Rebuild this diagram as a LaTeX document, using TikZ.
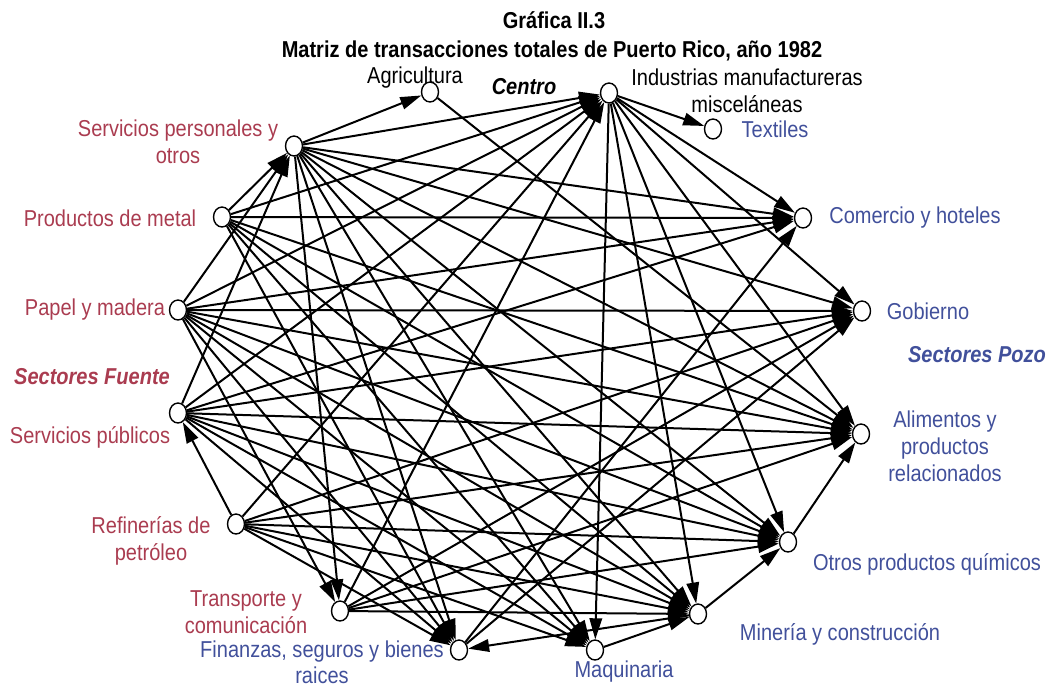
\documentclass[tikz,border=0pt]{standalone}
\usepackage{fontspec}
\setmainfont{Liberation Sans}[FakeStretch=0.87]
\usetikzlibrary{arrows.meta,shapes.geometric}
\definecolor{srcred}{RGB}{170,60,80}
\definecolor{sinkblue}{RGB}{65,80,155}
\pgfdeclarelayer{edges}
\pgfsetlayers{edges,main}

\begin{document}
\begin{tikzpicture}[x=1pt,y=-1pt,
  sector/.style={draw=black, line width=1.4pt, fill=white, ellipse,
    minimum width=17pt, minimum height=20pt, inner sep=0pt},
  flow/.style={line width=2pt, -{Triangle[length=21pt,width=12.5pt]}},
  lbl/.style={inner sep=0pt, align=center, font=\fontsize{23}{27}\selectfont},
  srclbl/.style={lbl, text=srcred},
  sinklbl/.style={lbl, text=sinkblue},
  grouplbl/.style={inner sep=0pt, font=\fontsize{23}{27}\selectfont\bfseries\itshape},
  titlelbl/.style={inner sep=0pt, font=\fontsize{23}{27}\selectfont\bfseries},
]
\useasboundingbox (0,0) rectangle (1056,689);

% title
\node[titlelbl] (t1) at (554,20) {Gráfica II.3};
\node[titlelbl] (t2) at (552,51) {Matriz de transacciones totales de Puerto Rico, año 1982};

% sectors
\node[sector] (agr) at (430,92) {};
\node[sector] (im)  at (609,93) {};
\node[sector] (tex) at (713,129) {};
\node[sector] (sp)  at (294,146) {};
\node[sector] (ch)  at (803,218) {};
\node[sector] (pm)  at (222,217) {};
\node[sector] (pa)  at (178,310) {};
\node[sector] (go)  at (862,311) {};
\node[sector] (spu) at (178,413) {};
\node[sector] (al)  at (861,434) {};
\node[sector] (rp)  at (236,524) {};
\node[sector] (oq)  at (788,542) {};
\node[sector] (tc)  at (340,611) {};
\node[sector] (mc)  at (698,614) {};
\node[sector] (fi)  at (459,650) {};
\node[sector] (ma)  at (595,650) {};

% labels
\node[lbl] (lagr) at (415,78) {Agricultura};
\node[grouplbl] (lcen) at (524,87) {Centro};
\node[lbl] (lim) at (747,91) {Industrias manufactureras\\misceláneas};
\node[sinklbl] (ltex) at (775,129) {Textiles};
\node[srclbl] (lsp) at (178,142) {Servicios personales y\\otros};
\node[srclbl] (lpm) at (110,218) {Productos de metal};
\node[srclbl] (lpa) at (95,310) {Papel y madera};
\node[grouplbl, text=srcred] (lfue) at (92,377) {Sectores Fuente};
\node[srclbl] (lspu) at (90,437) {Servicios públicos};
\node[srclbl] (lrp) at (151,541) {Refinerías de\\petróleo};
\node[srclbl] (ltc) at (246,612) {Transporte y\\comunicación};
\node[sinklbl, font=\fontsize{23}{26}\selectfont] (lfi) at (322,662) {Finanzas, seguros y bienes\\raices};
\node[sinklbl] (lma) at (624,672) {Maquinaria};
\node[sinklbl] (lmc) at (840,634) {Minería y construcción};
\node[sinklbl] (loq) at (927,564) {Otros productos químicos};
\node[sinklbl] (lal) at (945,446) {Alimentos y\\productos\\relacionados};
\node[grouplbl, text=sinkblue] (lpoz) at (977,355) {Sectores Pozo};
\node[sinklbl] (lgo) at (928,311) {Gobierno};
\node[sinklbl] (lch) at (915,218) {Comercio y hoteles};

% flows between sectors
\begin{pgfonlayer}{edges}
\foreach \a/\b in {
  sp/agr, sp/im, sp/ch, sp/go, sp/al, sp/oq, sp/mc, sp/ma, sp/fi, sp/tc,
  pm/sp, pm/im, pm/ch, pm/al, pm/oq, pm/mc, pm/ma, pm/fi,
  pa/sp, pa/im, pa/ch, pa/go, pa/al, pa/oq, pa/mc, pa/ma, pa/fi, pa/tc,
  spu/sp, spu/im, spu/ch, spu/go, spu/al, spu/oq, spu/mc, spu/ma, spu/fi,
  rp/spu, rp/im, rp/go, rp/al, rp/oq, rp/mc, rp/ma, rp/fi,
  tc/im, tc/go, tc/al, tc/oq, tc/mc,
  im/tex, im/ch, im/go, im/al, im/oq, im/mc, im/ma,
  agr/al, oq/al, mc/oq, ma/mc, mc/fi, fi/ch, fi/go}
  \draw[flow] (\a) -- (\b);
\end{pgfonlayer}
\end{tikzpicture}
\end{document}
